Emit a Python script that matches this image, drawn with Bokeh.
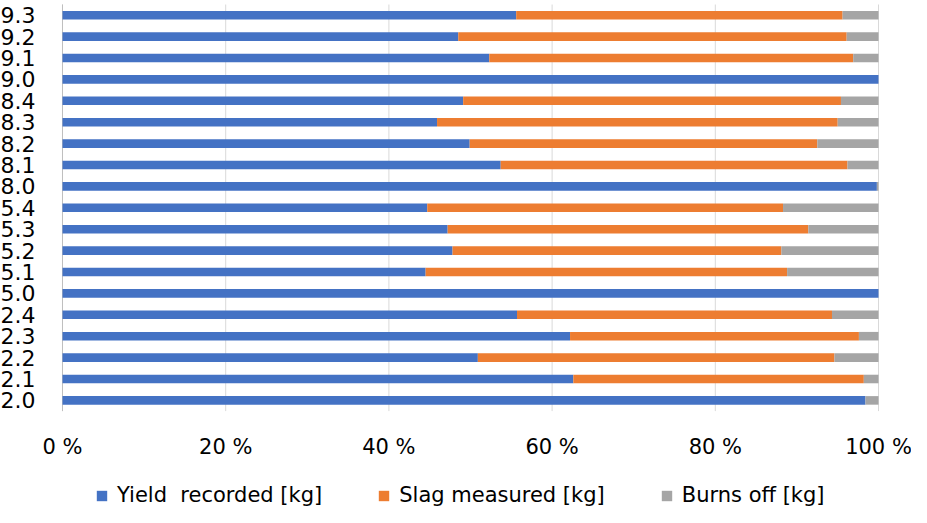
from bokeh.plotting import figure
from bokeh.models import Range1d, Legend, LegendItem, ColumnDataSource
from bokeh.core.properties import value
from bokeh.embed import file_html
from bokeh.resources import INLINE

categories = ["9.3", "9.2", "9.1", "9.0", "8.4", "8.3", "8.2", "8.1", "8.0",
              "5.4", "5.3", "5.2", "5.1", "5.0", "2.4", "2.3", "2.2", "2.1", "2.0"]
yield_recorded = [55.6, 48.5, 52.3, 100.0, 49.1, 45.9, 49.9, 53.7, 99.8,
                  44.7, 47.2, 47.8, 44.5, 100.0, 55.7, 62.2, 50.9, 62.6, 98.4]
slag_measured = [40.0, 47.6, 44.6, 0.0, 46.3, 49.1, 42.6, 42.5, 0.0,
                 43.6, 44.2, 40.3, 44.3, 0.0, 38.6, 35.4, 43.7, 35.6, 0.0]
burns_off = [4.4, 3.9, 3.1, 0.0, 4.6, 5.0, 7.5, 3.8, 0.2,
             11.7, 8.6, 11.9, 11.2, 0.0, 5.7, 2.4, 5.4, 1.8, 1.6]
series_names = ["Yield  recorded [kg]", "Slag measured [kg]", "Burns off [kg]"]
series_keys = ["yield", "slag", "burn"]
colors = ["#4472C4", "#ED7D31", "#A5A5A5"]
x_ticks = [0, 20, 40, 60, 80, 100]
x_tick_labels = ["0 %", "20 %", "40 %", "60 %", "80 %", "100 %"]

FONT = "DejaVu Sans"

n = len(categories)
positions = list(range(n - 1, -1, -1))  # first category on top
source = ColumnDataSource(dict(pos=positions, cat=categories, **{"yield": yield_recorded},
                               slag=slag_measured, burn=burns_off))

# The frame spans the whole canvas so that axis labels and legend (drawn inside it) are not clipped.
p = figure(y_range=Range1d(-5.005, n - 0.313), x_range=Range1d(-7.598, 104.044),
           width=911, height=507, x_axis_location=None, y_axis_location=None,
           output_backend="svg", toolbar_location=None,
           min_border_left=0, min_border_right=0, min_border_top=0, min_border_bottom=0)

p.outline_line_color = None
p.grid.visible = False

lo, hi = -0.5, n - 0.5
# vertical gridlines over the bar area
p.segment(x0=x_ticks, y0=[lo] * len(x_ticks), x1=x_ticks, y1=[hi] * len(x_ticks),
          line_color="#D9D9D9", line_width=1)
# category axis line
p.segment(x0=[0], y0=[lo], x1=[0], y1=[hi], line_color="#BFBFBF", line_width=1)

renderers = p.hbar_stack(series_keys, y="pos", height=0.4, color=colors, line_width=0, source=source)

# value-axis tick labels
p.text(x=x_ticks, y=[lo] * len(x_ticks), text=x_tick_labels, y_offset=36,
       text_align="center", text_baseline="middle",
       text_font=value(FONT), text_font_size="21px", text_color="#000000")

# category-axis tick labels
p.text(x=0, y="pos", text="cat", source=source, x_offset=-27,
       text_align="right", text_baseline="middle",
       text_font=value(FONT), text_font_size="22px", text_color="#000000")

legend = Legend(items=[LegendItem(label=nm, renderers=[r]) for nm, r in zip(series_names, renderers)],
                orientation="horizontal", location=(95, 0),
                glyph_width=13, glyph_height=13, label_standoff=9, spacing=55,
                padding=0, margin=0, border_line_color=None, background_fill_alpha=0,
                label_text_font=FONT, label_text_font_size="21px", label_text_color="#000000")
p.add_layout(legend, "center")

open("out.html", "w").write(file_html(p, INLINE))
